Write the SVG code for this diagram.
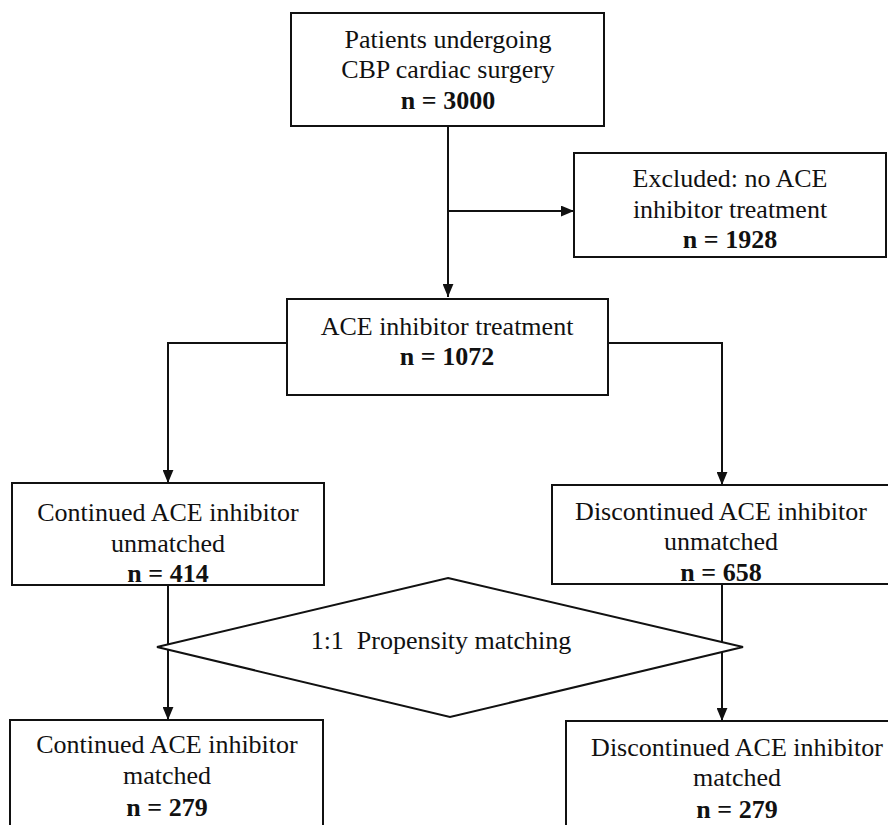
<svg xmlns="http://www.w3.org/2000/svg" width="888" height="825" viewBox="0 0 888 825">
<style>
.box{fill:#fff;stroke:#111;stroke-width:2}
.t{font-family:"Liberation Serif","Times New Roman",serif;font-size:26px;fill:#111;text-anchor:middle}
.b{font-weight:bold}
.c{fill:none;stroke:#111;stroke-width:2}
</style>
<defs>
<marker id="ah" viewBox="0 0 12 10" refX="12" refY="5" markerWidth="13" markerHeight="11" markerUnits="userSpaceOnUse" orient="auto">
<path d="M0,0 L12,5 L0,10 Z" fill="#111"/>
</marker>
</defs>
<rect width="888" height="825" fill="#fff"/>
<g id="connectors">
<path class="c" d="M448,126 V297" marker-end="url(#ah)"/>
<path class="c" d="M448,211 H574" marker-end="url(#ah)"/>
<path class="c" d="M287,343 H168 V483" marker-end="url(#ah)"/>
<path class="c" d="M608,343 H722 V485" marker-end="url(#ah)"/>
<path class="c" d="M168,585 V720" marker-end="url(#ah)"/>
<path class="c" d="M722,584 V721" marker-end="url(#ah)"/>
</g>
<g id="n1">
<rect class="box" x="291" y="13" width="313" height="113"/>
<text class="t" x="448" y="48">Patients undergoing</text>
<text class="t" x="448" y="78">CBP cardiac surgery</text>
<text class="t b" x="448" y="109">n = 3000</text>
</g>
<g id="n2">
<rect class="box" x="574" y="153" width="312" height="104"/>
<text class="t" x="730" y="187">Excluded: no ACE</text>
<text class="t" x="730" y="218">inhibitor treatment</text>
<text class="t b" x="730" y="248">n = 1928</text>
</g>
<g id="n3">
<rect class="box" x="287" y="299" width="321" height="96"/>
<text class="t" x="447" y="335">ACE inhibitor treatment</text>
<text class="t b" x="447" y="365">n = 1072</text>
</g>
<g id="n4">
<rect class="box" x="12" y="483" width="312" height="102"/>
<text class="t" x="168" y="521">Continued ACE inhibitor</text>
<text class="t" x="168" y="552">unmatched</text>
<text class="t b" x="168" y="582">n = 414</text>
</g>
<g id="n5">
<rect class="box" x="552" y="485" width="345" height="99"/>
<text class="t" x="721" y="520">Discontinued ACE inhibitor</text>
<text class="t" x="721" y="550">unmatched</text>
<text class="t b" x="721" y="581">n = 658</text>
</g>
<g id="n6">
<path class="box" d="M448,578 L743,647 L450,717 L157,647 Z"/>
<text class="t" x="441" y="649" xml:space="preserve">1:1  Propensity matching</text>
</g>
<g id="n7">
<rect class="box" x="10" y="720" width="313" height="120"/>
<text class="t" x="167" y="753">Continued ACE inhibitor</text>
<text class="t" x="167" y="784">matched</text>
<text class="t b" x="167" y="816">n = 279</text>
</g>
<g id="n8">
<rect class="box" x="566" y="721" width="345" height="120"/>
<text class="t" x="737" y="756">Discontinued ACE inhibitor</text>
<text class="t" x="737" y="786">matched</text>
<text class="t b" x="737" y="818">n = 279</text>
</g>
</svg>
